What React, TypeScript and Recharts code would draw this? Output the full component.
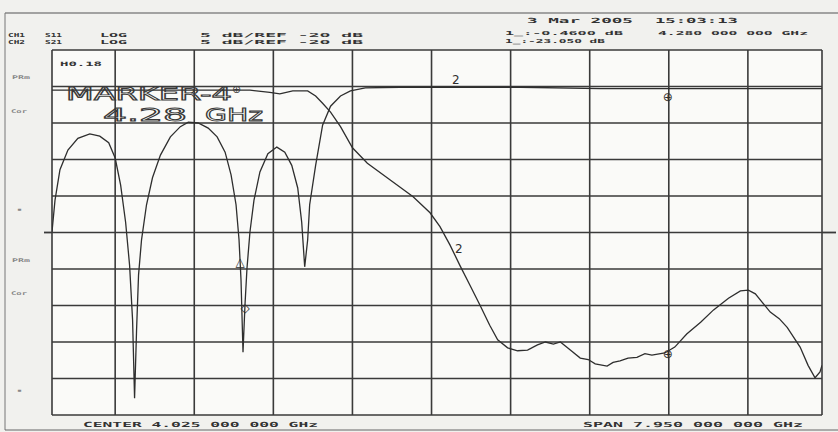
import { LineChart, Line, XAxis, YAxis, ReferenceLine, ReferenceDot, ReferenceArea } from 'recharts';

// frequency in GHz, level in dB (5 dB/div, ref -20 dB at centre line)
const s11Freq = [0.21, 0.24, 0.29, 0.37, 0.47, 0.59, 0.69, 0.78, 0.845, 0.9, 0.95, 0.99, 1.02, 1.04, 1.06, 1.08, 1.11, 1.16, 1.22, 1.3, 1.4, 1.5, 1.58, 1.68, 1.78, 1.87, 1.95, 2.01, 2.06, 2.09, 2.11, 2.13, 2.15, 2.17, 2.2, 2.24, 2.3, 2.38, 2.47, 2.55, 2.62, 2.68, 2.72, 2.75, 2.78, 2.8, 2.86, 2.93, 3.01, 3.11, 3.21, 3.36, 3.71, 4.26, 4.92, 5.72, 6.4, 7.13, 7.95];
const s11Db = [-19.9, -15.6, -11.4, -8.7, -7.1, -6.5, -6.8, -7.7, -9.8, -13.5, -18.6, -24.5, -32.0, -42.7, -33.4, -25.8, -21.0, -16.2, -12.5, -9.4, -6.9, -5.5, -4.9, -5.0, -5.7, -6.9, -9.0, -12.1, -16.2, -21.0, -26.5, -36.4, -29.9, -24.9, -19.9, -15.6, -11.7, -9.2, -8.3, -9.0, -10.8, -13.9, -18.6, -24.7, -21.0, -16.2, -10.8, -5.3, -2.7, -1.3, -0.6, -0.2, -0.1, -0.1, -0.1, -0.3, -0.3, -0.3, -0.3];

const s21Freq = [0.21, 1.2, 2.2, 2.4, 2.5, 2.63, 2.78, 2.86, 2.93, 3.01, 3.11, 3.23, 3.38, 3.61, 3.84, 4.01, 4.11, 4.21, 4.31, 4.41, 4.51, 4.61, 4.69, 4.79, 4.89, 4.99, 5.09, 5.17, 5.25, 5.32, 5.42, 5.52, 5.6, 5.67, 5.79, 5.85, 5.92, 6.0, 6.09, 6.17, 6.24, 6.37, 6.47, 6.59, 6.73, 6.86, 7.01, 7.13, 7.21, 7.28, 7.43, 7.52, 7.6, 7.73, 7.81, 7.88, 7.93, 7.95];
const s21Db = [-0.5, -0.5, -0.5, -0.8, -1.0, -0.6, -0.6, -1.3, -2.3, -3.5, -5.5, -8.4, -10.5, -12.8, -15.1, -17.3, -19.2, -21.7, -24.5, -27.2, -29.9, -32.7, -34.7, -35.8, -36.2, -36.1, -35.4, -35.0, -35.3, -35.0, -36.1, -37.2, -37.4, -38.0, -38.3, -37.8, -37.6, -37.2, -37.1, -36.6, -36.8, -36.5, -35.7, -33.9, -32.3, -30.6, -29.0, -28.0, -27.9, -28.4, -30.9, -31.8, -33.0, -35.7, -38.2, -39.9, -39.1, -38.2];

const gridFreqs = [0.845, 1.64, 2.435, 3.23, 4.025, 4.82, 5.615, 6.41, 7.205];
const gridDb = [-40, -35, -30, -25, -20, -15, -10, -5, 0];

const markerFreq = [4.27, 4.3, 6.4, 6.4, 2.1, 2.15];
const markerDb = [0.9, -22.2, -1.5, -36.6, -24, -30.4];
const markerGlyph = ['2', '2', '⊕', '⊕', '△', '◇'];

const X_MIN = 0.21;
const X_MAX = 7.95;
const Y_MIN = -45;
const Y_MAX = 5;

const s11 = s11Freq.map((f, i) => ({ f, db: s11Db[i] }));
const s21 = s21Freq.map((f, i) => ({ f, db: s21Db[i] }));

const INK = '#2e2e2e';
const GRID = '#3a3a3a';
const MONO = '"DejaVu Sans Mono", monospace';
const SANS = '"DejaVu Sans", sans-serif';

const T = ({ x, y, w, size = 7, children, fill = '#333', weight = 700 }: any) => (
  <text x={x} y={y} textLength={w} lengthAdjust="spacingAndGlyphs" fontSize={size} fontFamily={MONO} fontWeight={weight} fill={fill}>
    {children}
  </text>
);

const App = () => {
  return (
    <div style={{ position: 'absolute', left: 0, top: 0, width: 838, height: 432, background: '#f1f1ee', overflow: 'hidden' }}>
      <LineChart width={838} height={432} data={s11} margin={{ top: 50, right: 16, bottom: 17, left: 52 }} style={{ position: 'absolute', left: 0, top: 0 }}>
        <XAxis type="number" dataKey="f" domain={[X_MIN, X_MAX]} allowDataOverflow hide />
        <YAxis type="number" domain={[Y_MIN, Y_MAX]} allowDataOverflow hide />
        <ReferenceArea x1={X_MIN} x2={X_MAX} y1={Y_MIN} y2={Y_MAX} fill="#fafaf8" fillOpacity={1} stroke="none" />
        {gridFreqs.map((f) => (
          <ReferenceLine key={'x' + f} x={f} stroke={GRID} strokeWidth={1.6} />
        ))}
        {gridDb.map((d) => (
          <ReferenceLine key={'y' + d} y={d} stroke={GRID} strokeWidth={1.6} />
        ))}
        <ReferenceLine x={X_MIN} stroke={GRID} strokeWidth={1.6} />
        <ReferenceLine x={X_MAX} stroke={GRID} strokeWidth={1.6} />
        <ReferenceLine y={Y_MIN} stroke={GRID} strokeWidth={1.6} />
        <ReferenceLine y={Y_MAX} stroke={GRID} strokeWidth={1.6} />
        <Line data={s11} dataKey="db" type="linear" stroke={INK} strokeWidth={1.3} dot={false} isAnimationActive={false} />
        <Line data={s21} dataKey="db" type="linear" stroke={INK} strokeWidth={1.3} dot={false} isAnimationActive={false} />
        {markerFreq.map((f, i) => (
          <ReferenceDot
            key={'m' + i}
            x={f}
            y={markerDb[i]}
            r={6}
            shape={(p: any) => (
              <text x={p.cx} y={p.cy} textAnchor="middle" dominantBaseline="central" fontSize={12} fontFamily={SANS} fill={INK}>
                {markerGlyph[i]}
              </text>
            )}
          />
        ))}
      </LineChart>
      <svg width={838} height={432} style={{ position: 'absolute', left: 0, top: 0, pointerEvents: 'none' }}>
        <line x1={5} y1={13} x2={838} y2={13} stroke="#555" strokeWidth={1.2} />
        <line x1={5} y1={13} x2={5} y2={430} stroke="#777" strokeWidth={1} />
        <line x1={5} y1={430} x2={838} y2={430} stroke="#666" strokeWidth={1.2} />
        <line x1={44} y1={232.5} x2={52} y2={232.5} stroke={GRID} strokeWidth={1.8} />
        <line x1={822} y1={232.5} x2={836} y2={232.5} stroke={GRID} strokeWidth={1.8} />

        <T x={527} y={23} w={106}>3 Mar 2005</T>
        <T x={655} y={23} w={83}>15:03:13</T>

        <T x={8} y={37} w={17} size={5.5}>CH1</T>
        <T x={45} y={37} w={17} size={5.5}>S11</T>
        <T x={100} y={37} w={27} size={5.5}>LOG</T>
        <T x={8} y={44} w={17} size={5.5}>CH2</T>
        <T x={45} y={44} w={17} size={5.5}>S21</T>
        <T x={100} y={44} w={27} size={5.5}>LOG</T>
        <T x={200} y={37} w={163} size={5.5}>5 dB/REF -20 dB</T>
        <T x={200} y={44} w={163} size={5.5}>5 dB/REF -20 dB</T>

        <T x={505} y={35} w={118} size={5.5}>1_:-0.4600 dB</T>
        <T x={658} y={35} w={150} size={5.5}>4.280 000 000 GHz</T>
        <T x={505} y={43} w={100} size={5.5}>1_:-23.050 dB</T>

        <T x={60} y={66} w={42} size={6}>H0.18</T>

        <T x={12} y={79} w={18} size={5} fill="#888">PRm</T>
        <T x={11} y={113} w={16} size={5} fill="#888">Cor</T>
        <T x={17} y={211} w={5} size={5} fill="#888">▪</T>
        <T x={12} y={262} w={18} size={5} fill="#888">PRm</T>
        <T x={11} y={295} w={16} size={5} fill="#888">Cor</T>
        <T x={17} y={392} w={5} size={5} fill="#888">▪</T>

        <text x={66} y={100} textLength={166} lengthAdjust="spacingAndGlyphs" fontSize={17} fontFamily={SANS} fill="none" stroke="#3a3a3a" strokeWidth={0.9}>
          MARKER-4
        </text>
        <text x={232} y={93} fontSize={11} fontFamily={SANS} fill="#3a3a3a">⊕</text>
        <text x={103} y={121} textLength={84} lengthAdjust="spacingAndGlyphs" fontSize={17} fontFamily={SANS} fill="none" stroke="#3a3a3a" strokeWidth={0.9}>
          4.28
        </text>
        <text x={205} y={121} textLength={58} lengthAdjust="spacingAndGlyphs" fontSize={17} fontFamily={SANS} fill="none" stroke="#3a3a3a" strokeWidth={0.9}>
          GHz
        </text>

        <T x={83} y={427} w={235}>CENTER 4.025 000 000 GHz</T>
        <T x={583} y={427} w={220}>SPAN 7.950 000 000 GHz</T>
      </svg>
    </div>
  );
};

export default App;
